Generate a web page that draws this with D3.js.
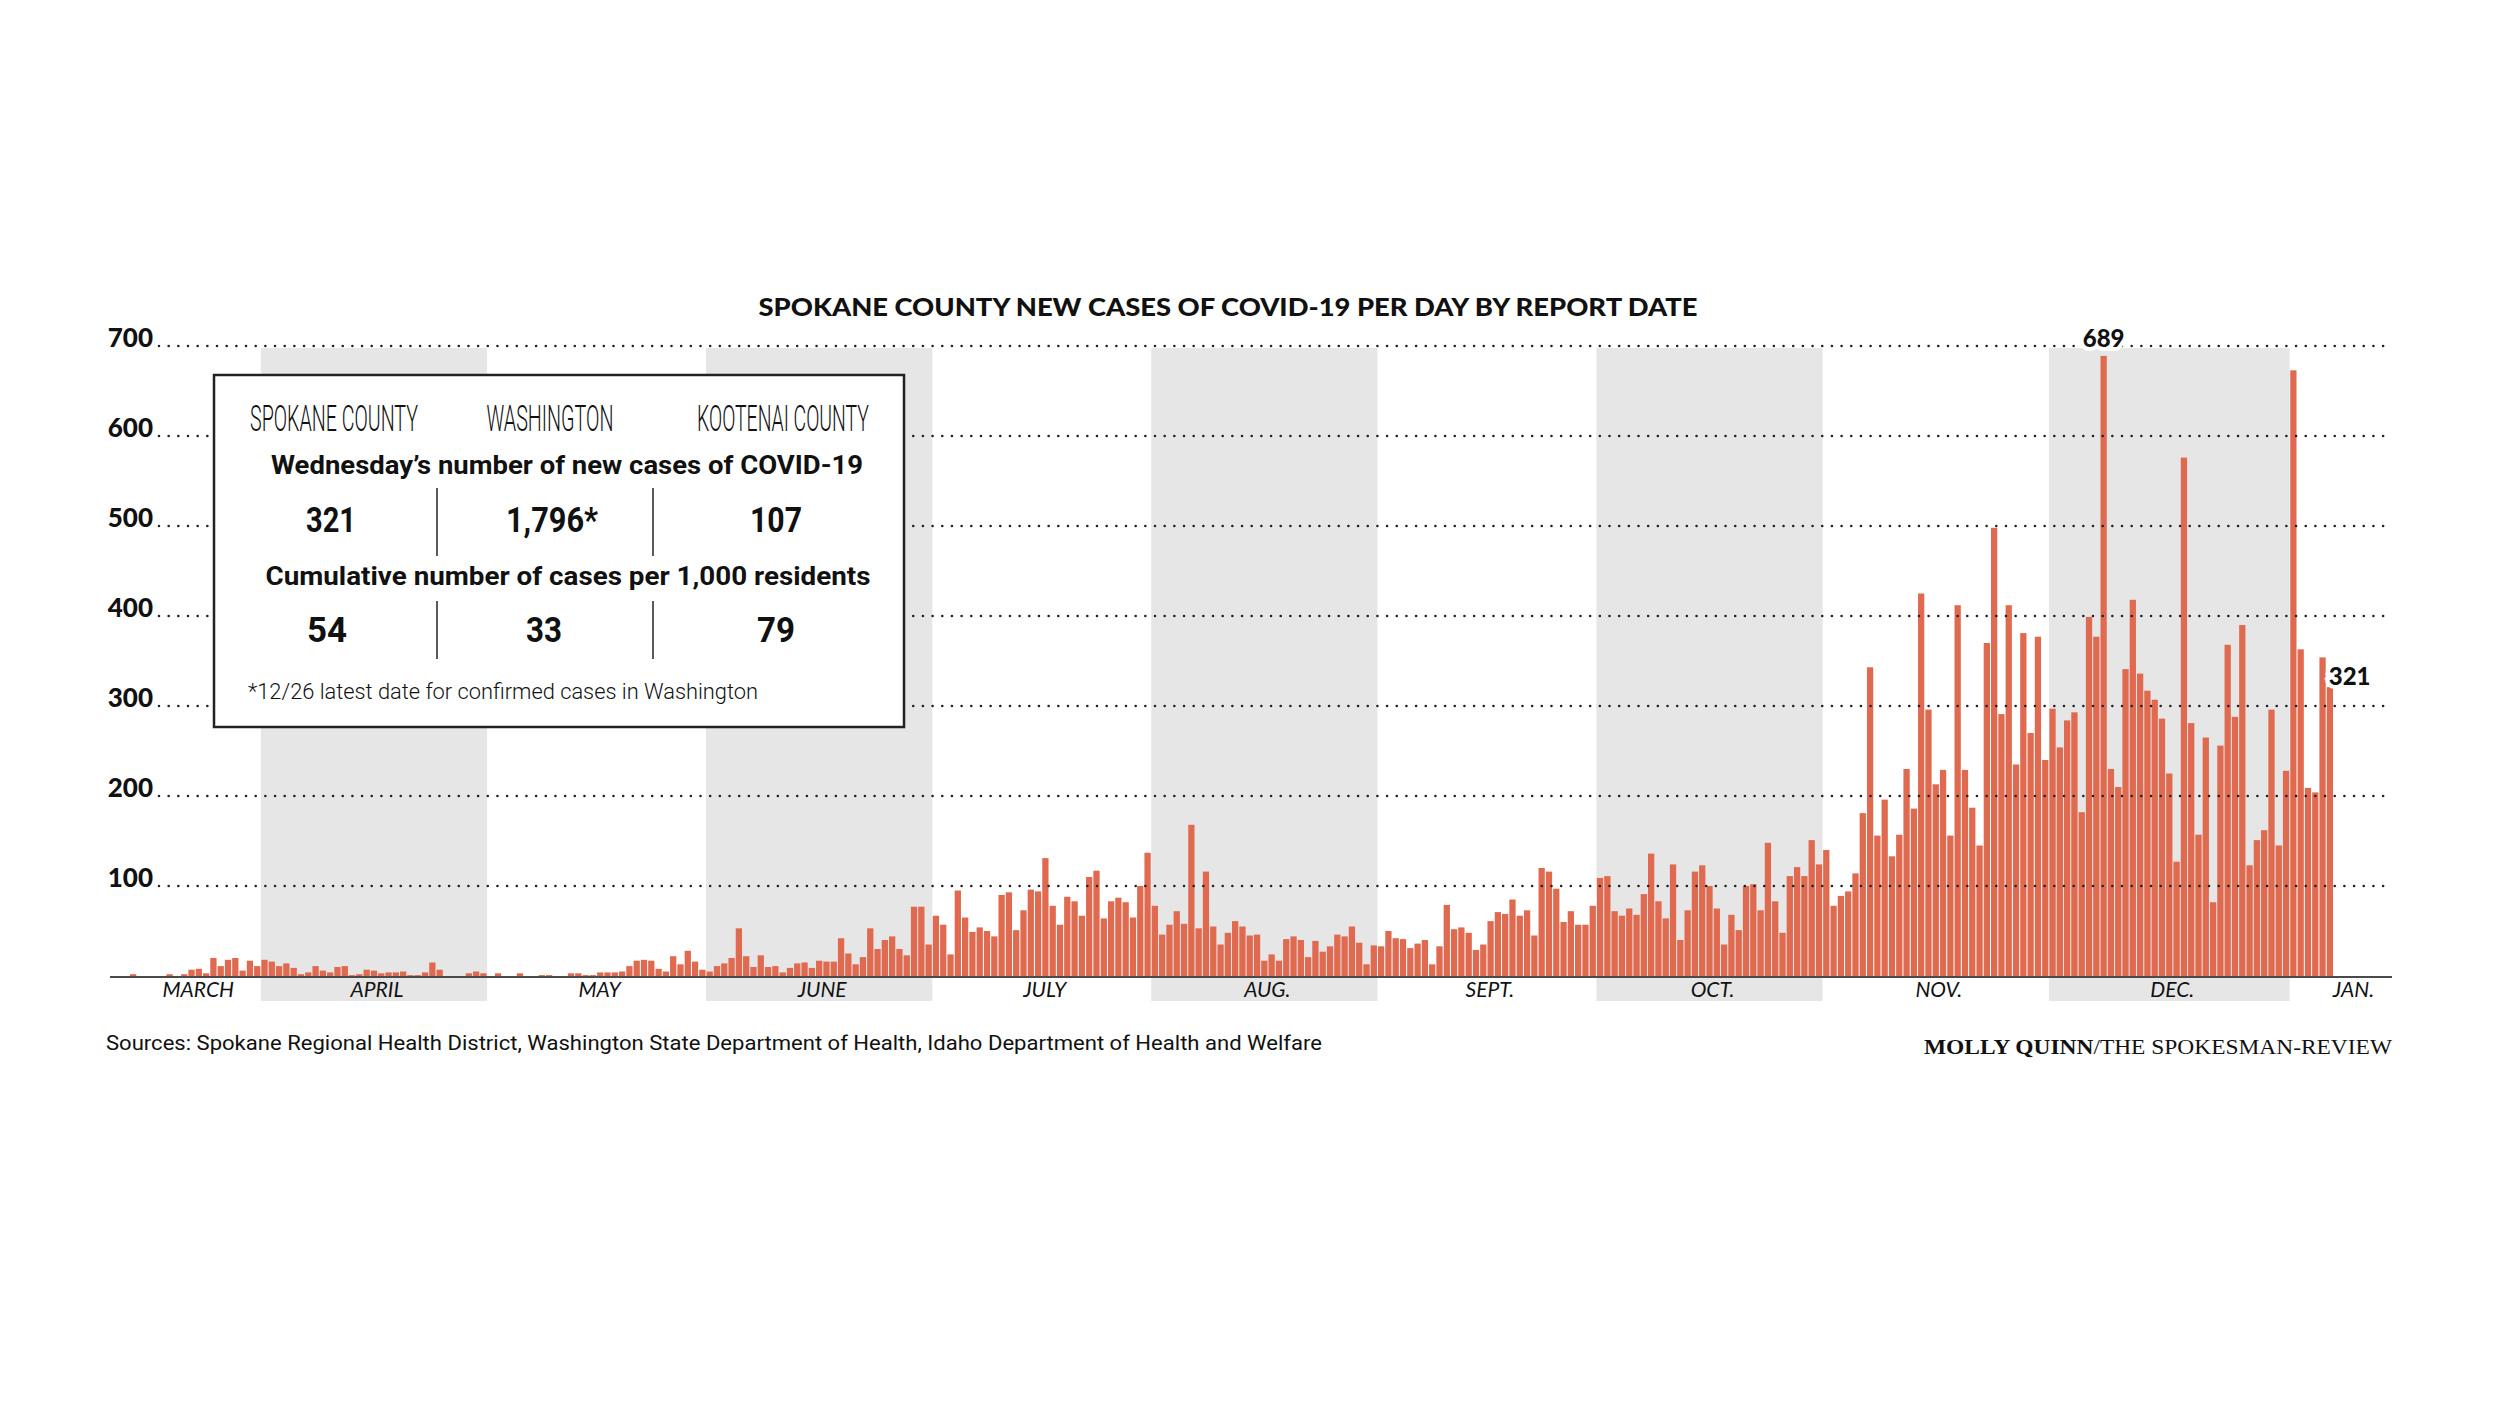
<!DOCTYPE html>
<html>
<head>
<meta charset="utf-8">
<title>Spokane County new cases of COVID-19</title>
<script src="https://cdn.jsdelivr.net/npm/d3@7"></script>
<style>
  body { margin: 0; background: #fff; }
  svg text { font-family: Lato, "Noto Sans", sans-serif; fill: #111; }
</style>
</head>
<body>
<div id="chart"></div>
<script>
// new cases per day (first bar mid-March through Dec. 30)
const dailyCases = [
  2, 0, 0, 0, 0, 2, 0, 2, 7, 8, 3, 20, 11, 18, 20, 6, 17, 11,
  18, 16, 11, 14, 9, 2, 4, 11, 6, 4, 10, 11, 1, 2, 7, 6, 3, 4, 4, 5, 1, 1, 4, 15, 7, 0, 0, 0, 3, 5, 3,
  0, 3, 0, 0, 3, 0, 0, 1, 1, 0, 0, 3, 3, 1, 1, 4, 4, 4, 5, 11, 17, 18, 17, 8, 5, 22, 13, 28, 16, 7,
  5, 11, 14, 20, 53, 22, 10, 23, 10, 11, 4, 9, 14, 15, 9, 17, 16, 16, 42, 25, 13, 21, 53, 30, 40, 44, 30, 23, 77, 77, 35,
  67, 57, 24, 95, 65, 49, 54, 50, 44, 90, 93, 51, 73, 96, 94, 131, 78, 57, 88, 83, 67, 110, 117, 64, 83, 87, 82, 65, 100, 137,
  78, 46, 57, 72, 58, 168, 53, 116, 55, 35, 48, 61, 55, 45, 46, 17, 24, 17, 41, 44, 40, 21, 39, 27, 33, 46, 44, 55, 37, 13, 34,
  33, 50, 42, 41, 31, 36, 40, 13, 33, 79, 52, 54, 48, 29, 35, 61, 71, 69, 85, 67, 73, 45, 120, 116, 97, 60, 72, 57, 57, 78,
  109, 111, 72, 67, 75, 68, 91, 136, 83, 64, 124, 40, 73, 116, 123, 100, 75, 35, 68, 51, 100, 102, 73, 148, 83, 48, 111, 121, 111, 151, 124,
  140, 78, 89, 94, 114, 181, 343, 156, 196, 133, 157, 230, 186, 425, 296, 213, 229, 156, 412, 229, 187, 145, 370, 498, 291, 412, 235, 381, 270, 377, 240,
  297, 254, 284, 293, 182, 399, 377, 689, 230, 210, 341, 418, 336, 317, 307, 286, 225, 127, 576, 281, 157, 265, 82, 256, 368, 288, 390, 123, 151, 162, 296, 145, 228,
  673, 363, 209, 204, 354, 321
];

// month labels and the bar at which each month's strip begins
const monthLabels = ['MARCH', 'APRIL', 'MAY', 'JUNE', 'JULY', 'AUG.', 'SEPT.', 'OCT.', 'NOV.', 'DEC.', 'JAN.'];
const monthStarts = [0, 18, 49, 79, 110, 140, 171, 201, 232, 263, 296];

const yTicks = [100, 200, 300, 400, 500, 600, 700];

// bars that carry a value label
const labelledBars = [270, 301];

// summary box
const regions = ['SPOKANE COUNTY', 'WASHINGTON', 'KOOTENAI COUNTY'];
const newCases = ['321', '1,796*', '107'];
const casesPer1000 = ['54', '33', '79'];

class CasesChart {

  constructor(_config) {
    this.config = {
      parentElement: _config.parentElement,
      containerWidth: 2500,
      containerHeight: 1405,
      barLeft: 130,
      barRight: 2333,
      axisLeft: 110,
      axisRight: 2392,
      gridLeft: 159,
      top: 346,
      bottom: 976
    };
    this.initVis();
  }

  initVis() {
    let vis = this;
    const c = vis.config;

    vis.svg = d3.select(c.parentElement).append('svg')
        .attr('width', c.containerWidth)
        .attr('height', c.containerHeight);

    vis.svg.append('rect')
        .attr('width', c.containerWidth)
        .attr('height', c.containerHeight)
        .attr('fill', '#fff');

    vis.xScale = d3.scaleBand()
        .domain(d3.range(dailyCases.length))
        .range([c.barLeft, c.barRight])
        .paddingInner(0.14)
        .paddingOuter(0);

    vis.yScale = d3.scaleLinear()
        .domain([0, 700])
        .range([c.bottom, c.top]);

    vis.bandG = vis.svg.append('g');
    vis.barG = vis.svg.append('g');
    vis.gridG = vis.svg.append('g');
    vis.axisG = vis.svg.append('g');
    vis.annoG = vis.svg.append('g');
    vis.boxG = vis.svg.append('g');

    vis.renderVis();
  }

  // left edge of the step that holds bar i
  edge(i) {
    let vis = this;
    if (i >= dailyCases.length) return vis.config.barRight;
    return vis.xScale(i) - vis.xScale.step() * vis.xScale.paddingInner() / 2;
  }

  renderVis() {
    let vis = this;
    const c = vis.config;

    const months = monthLabels.map((label, k) => ({
      label: label,
      x0: vis.edge(monthStarts[k]),
      x1: k < monthLabels.length - 1 ? vis.edge(monthStarts[k + 1]) : vis.edge(dailyCases.length),
      shaded: k % 2 === 1
    }));

    // grey strips for every other month
    vis.bandG.selectAll('.month-band')
        .data(months.filter(d => d.shaded))
      .join('rect')
        .attr('class', 'month-band')
        .attr('x', d => d.x0)
        .attr('width', d => d.x1 - d.x0)
        .attr('y', c.top + 2)
        .attr('height', 1001 - (c.top + 2))
        .attr('fill', '#e6e6e6');

    vis.barG.selectAll('.bar')
        .data(dailyCases)
      .join('rect')
        .attr('class', 'bar')
        .attr('x', (d, i) => vis.xScale(i))
        .attr('width', vis.xScale.bandwidth())
        .attr('y', d => vis.yScale(d))
        .attr('height', d => vis.yScale(0) - vis.yScale(d))
        .attr('fill', '#e06a50');

    // dotted gridlines sit on top of the bars
    vis.gridG.selectAll('.grid')
        .data(yTicks)
      .join('line')
        .attr('class', 'grid')
        .attr('x1', c.gridLeft)
        .attr('x2', c.axisRight - 4)
        .attr('y1', d => vis.yScale(d))
        .attr('y2', d => vis.yScale(d))
        .attr('stroke', '#222')
        .attr('stroke-width', 2.6)
        .attr('stroke-linecap', 'round')
        .attr('stroke-dasharray', '0 9.67');

    vis.gridG.selectAll('.tick-label')
        .data(yTicks)
      .join('text')
        .attr('class', 'tick-label')
        .attr('x', 153)
        .attr('y', d => vis.yScale(d) + 1)
        .attr('text-anchor', 'end')
        .style('font-size', '26px')
        .style('font-weight', 900)
        .text(d => d);

    vis.axisG.append('line')
        .attr('x1', c.axisLeft)
        .attr('x2', c.axisRight)
        .attr('y1', vis.yScale(0) + 1)
        .attr('y2', vis.yScale(0) + 1)
        .attr('stroke', '#4a4a4a')
        .attr('stroke-width', 2);

    vis.axisG.selectAll('.month-label')
        .data(months)
      .join('text')
        .attr('class', 'month-label')
        .attr('x', (d, k) => k === months.length - 1 ? vis.xScale(dailyCases.length - 1) + 6 : (d.x0 + d.x1) / 2 + 3)
        .attr('y', 997)
        .attr('text-anchor', (d, k) => k === months.length - 1 ? 'start' : 'middle')
        .style('font-size', '21px')
        .style('font-style', 'italic')
        .style('font-weight', 400)
        .text(d => d.label);

    // value labels on the peak and the latest day
    vis.annoG.selectAll('.value-label')
        .data(labelledBars)
      .join('text')
        .attr('class', 'value-label')
        .attr('x', (i, k) => k === 0 ? vis.xScale(i) + vis.xScale.bandwidth() / 2 : vis.xScale(i) + 2)
        .attr('y', (i, k) => k === 0 ? vis.yScale(dailyCases[i]) - 9 : vis.yScale(dailyCases[i]) - 2)
        .attr('text-anchor', (i, k) => k === 0 ? 'middle' : 'start')
        .style('font-size', '24px')
        .style('font-weight', 900)
        .attr('stroke', '#fff')
        .attr('stroke-width', 8)
        .attr('paint-order', 'stroke')
        .text(i => dailyCases[i]);

    // title
    vis.svg.append('text')
        .attr('x', 1228)
        .attr('y', 316)
        .attr('text-anchor', 'middle')
        .attr('textLength', 939)
        .attr('lengthAdjust', 'spacingAndGlyphs')
        .style('font-size', '25px')
        .style('font-weight', 900)
        .text('SPOKANE COUNTY NEW CASES OF COVID-19 PER DAY BY REPORT DATE');

    vis.renderBox();

    // footer
    vis.svg.append('text')
        .attr('x', 106)
        .attr('y', 1050)
        .attr('textLength', 1216)
        .attr('lengthAdjust', 'spacingAndGlyphs')
        .style('font-family', 'Roboto, sans-serif')
        .style('font-size', '21px')
        .text('Sources: Spokane Regional Health District, Washington State Department of Health, Idaho Department of Health and Welfare');

    const credit = vis.svg.append('text')
        .attr('x', 2392)
        .attr('y', 1054)
        .attr('text-anchor', 'end')
        .attr('textLength', 468)
        .attr('lengthAdjust', 'spacingAndGlyphs')
        .style('font-family', '"Liberation Serif", serif')
        .style('font-size', '22px');
    credit.append('tspan').style('font-weight', 700).text('MOLLY QUINN');
    credit.append('tspan').text('/THE SPOKESMAN-REVIEW');
  }

  renderBox() {
    let vis = this;
    const g = vis.boxG;
    const headCenters = [334, 550, 783];
    const headWidths = [168, 127, 172];
    const newWidths = [50, 92, 52];
    const perWidths = [40, 36, 38];

    g.append('rect')
        .attr('x', 214)
        .attr('y', 375)
        .attr('width', 690)
        .attr('height', 352)
        .attr('fill', '#fff')
        .attr('stroke', '#222')
        .attr('stroke-width', 2.5);

    // condensed column heads: squeeze each to its measured width
    g.selectAll('.region')
        .data(regions)
      .join('text')
        .attr('class', 'region')
        .attr('text-anchor', 'middle')
        .style('font-family', 'Roboto, sans-serif')
        .style('font-size', '37px')
        .style('font-weight', 300)
        .text(d => d)
        .attr('transform', function(d, k) {
          const s = headWidths[k] / this.getComputedTextLength();
          return `translate(${headCenters[k]},431) scale(${s},1)`;
        });

    g.append('text')
        .attr('x', 567)
        .attr('y', 474)
        .attr('text-anchor', 'middle')
        .attr('textLength', 592)
        .attr('lengthAdjust', 'spacingAndGlyphs')
        .style('font-family', 'Roboto, sans-serif')
        .style('font-size', '25px')
        .style('font-weight', 700)
        .text('Wednesday\u2019s number of new cases of COVID-19');

    g.append('text')
        .attr('x', 568)
        .attr('y', 585)
        .attr('text-anchor', 'middle')
        .attr('textLength', 605)
        .attr('lengthAdjust', 'spacingAndGlyphs')
        .style('font-family', 'Roboto, sans-serif')
        .style('font-size', '25px')
        .style('font-weight', 700)
        .text('Cumulative number of cases per 1,000 residents');

    g.selectAll('.new-cases')
        .data(newCases)
      .join('text')
        .attr('class', 'new-cases')
        .attr('x', (d, k) => [331, 552, 776][k])
        .attr('y', 532)
        .attr('text-anchor', 'middle')
        .attr('textLength', (d, k) => newWidths[k])
        .attr('lengthAdjust', 'spacingAndGlyphs')
        .style('font-family', 'Roboto, sans-serif')
        .style('font-size', '35px')
        .style('font-weight', 700)
        .text(d => d);

    g.selectAll('.per-1000')
        .data(casesPer1000)
      .join('text')
        .attr('class', 'per-1000')
        .attr('x', (d, k) => [327, 544, 776][k])
        .attr('y', 642)
        .attr('text-anchor', 'middle')
        .attr('textLength', (d, k) => perWidths[k])
        .attr('lengthAdjust', 'spacingAndGlyphs')
        .style('font-family', 'Roboto, sans-serif')
        .style('font-size', '35px')
        .style('font-weight', 700)
        .text(d => d);

    // column dividers for the two rows of figures
    const dividers = [];
    [437, 653].forEach(x => {
      dividers.push({x: x, y1: 488, y2: 556});
      dividers.push({x: x, y1: 601, y2: 659});
    });
    g.selectAll('.divider')
        .data(dividers)
      .join('line')
        .attr('class', 'divider')
        .attr('x1', d => d.x)
        .attr('x2', d => d.x)
        .attr('y1', d => d.y1)
        .attr('y2', d => d.y2)
        .attr('stroke', '#222')
        .attr('stroke-width', 1.5);

    g.append('text')
        .attr('x', 248)
        .attr('y', 699)
        .attr('textLength', 510)
        .attr('lengthAdjust', 'spacingAndGlyphs')
        .style('font-family', 'Roboto, sans-serif')
        .style('font-size', '22px')
        .style('font-weight', 300)
        .text('*12/26 latest date for confirmed cases in Washington');
  }
}

new CasesChart({parentElement: '#chart'});
</script>
</body>
</html>
